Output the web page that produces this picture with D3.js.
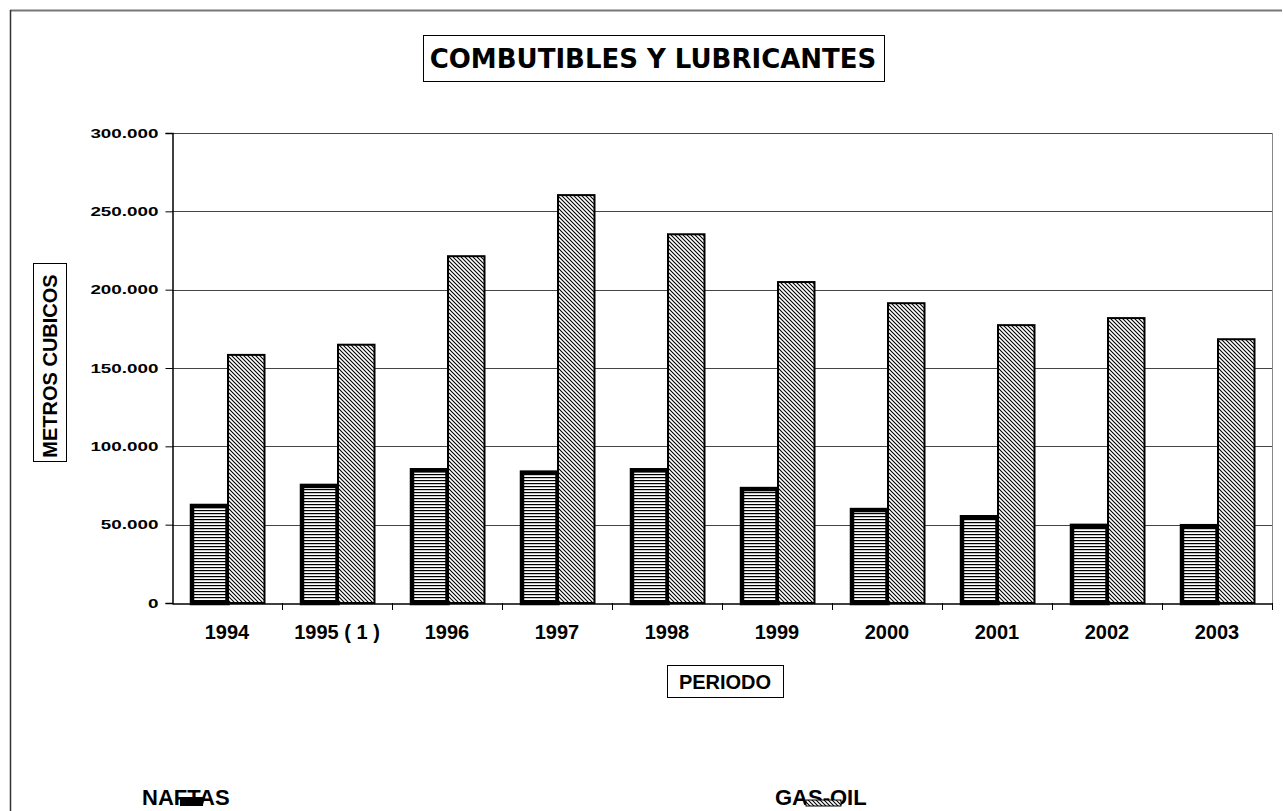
<!DOCTYPE html>
<html lang="es">
<head>
<meta charset="utf-8" />
<title>Combustibles y Lubricantes</title>
<script src="https://d3js.org/d3.v7.min.js"></script>
<style>
  body { margin: 0; background: #fff; }
  text { font-family: "Liberation Sans", Arial, sans-serif; font-weight: bold; fill: #000; }
</style>
</head>
<body>
<script>
// data
const periods = ["1994", "1995 ( 1 )", "1996", "1997", "1998", "1999", "2000", "2001", "2002", "2003"];
const naftas  = [63200, 76000, 86000, 84500, 86000, 74000, 60600, 56000, 50500, 50300];
const gasoil  = [159000, 165500, 222000, 261000, 236000, 205500, 192000, 178000, 182500, 169000];
const seriesNames = ["NAFTAS", "GAS-OIL"];
const yTicks = [0, 50000, 100000, 150000, 200000, 250000, 300000];

const width = 1283, height = 811;
const plot = { left: 172, right: 1272, top: 133, bottom: 603 };

const svg = d3.select("body").append("svg")
  .attr("width", width)
  .attr("height", height);

// patterns
const defs = svg.append("defs");
const hp = defs.append("pattern")
  .attr("id", "hstripe")
  .attr("patternUnits", "userSpaceOnUse")
  .attr("width", 6).attr("height", 3);
hp.append("rect").attr("width", 6).attr("height", 3).attr("fill", "#fff");
hp.append("rect").attr("y", 0).attr("width", 6).attr("height", 1.2).attr("fill", "#000");

const dp = defs.append("pattern")
  .attr("id", "diag")
  .attr("patternUnits", "userSpaceOnUse")
  .attr("width", 4).attr("height", 4);
dp.append("rect").attr("width", 4).attr("height", 4).attr("fill", "#fff");
dp.append("path").attr("d", "M-1,-1 L5,5 M-1,3 L1,5 M3,-1 L5,1")
  .attr("stroke", "#000").attr("stroke-width", 1.1);

// outer frame (top and left only visible)
svg.append("line").attr("x1", 10).attr("x2", 1282).attr("y1", 10.5).attr("y2", 10.5)
  .attr("stroke", "#777").attr("stroke-width", 2);
svg.append("line").attr("x1", 10.5).attr("x2", 10.5).attr("y1", 10).attr("y2", 811)
  .attr("stroke", "#333").attr("stroke-width", 1.5);

// scales
const x0 = d3.scaleBand().domain(periods).range([plot.left, plot.right]).paddingInner(0).paddingOuter(0);
const x1 = d3.scaleBand().domain(seriesNames).range([18, 110 - 17]).padding(0);
const y = d3.scaleLinear().domain([0, 300000]).range([plot.bottom, plot.top]);

// gridlines
svg.append("g").selectAll("line")
  .data(yTicks.slice(1))
  .join("line")
  .attr("x1", plot.left).attr("x2", plot.right)
  .attr("y1", d => Math.round(y(d)) + 0.5).attr("y2", d => Math.round(y(d)) + 0.5)
  .attr("stroke", "#444").attr("stroke-width", 1);

// right plot border
svg.append("line").attr("x1", plot.right + 0.5).attr("x2", plot.right + 0.5)
  .attr("y1", plot.top).attr("y2", plot.bottom)
  .attr("stroke", "#888").attr("stroke-width", 1);

// y axis (labels are horizontally stretched in the original)
const stretch = 1.45;
const fmt = d => d === 0 ? "0" : d3.format(",")(d).replace(/,/g, ".");
const yAxis = svg.append("g")
  .attr("transform", `translate(${plot.left + 0.5},0)`)
  .call(d3.axisLeft(y).tickValues(yTicks).tickFormat(fmt).tickSize(7));
yAxis.select(".domain").attr("stroke", "#000").attr("stroke-width", 1.5);
yAxis.selectAll(".tick line").attr("stroke", "#000");
yAxis.selectAll("text")
  .attr("x", -14 / stretch)
  .attr("transform", `scale(${stretch},1)`)
  .style("font-size", "13px").style("font-family", "Liberation Sans, Arial, sans-serif").style("font-weight", "bold");

// x axis
const xAxis = svg.append("g")
  .attr("transform", `translate(0,${plot.bottom + 0.5})`)
  .call(d3.axisBottom(x0).tickSize(0).tickPadding(21));
xAxis.select(".domain").attr("stroke", "#000").attr("stroke-width", 1.5);
xAxis.selectAll("text").style("font-size", "20px").style("font-family", "Liberation Sans, Arial, sans-serif").style("font-weight", "bold");
// tick marks at category boundaries
svg.append("g").selectAll("line")
  .data(periods.slice(1).concat(["end"]))
  .join("line")
  .attr("x1", (d, i) => Math.round(plot.left + x0.bandwidth() * (i + 1)) + 0.5)
  .attr("x2", (d, i) => Math.round(plot.left + x0.bandwidth() * (i + 1)) + 0.5)
  .attr("y1", plot.bottom).attr("y2", plot.bottom + 7)
  .attr("stroke", "#000");

// bars
const groups = svg.append("g").selectAll("g")
  .data(periods.map((p, i) => ({ p, vals: [naftas[i], gasoil[i]] })))
  .join("g")
  .attr("transform", d => `translate(${x0(d.p)},0)`);

groups.append("rect")
  .attr("x", x1("NAFTAS") + 2)
  .attr("y", d => y(d.vals[0]) + 2)
  .attr("width", x1.bandwidth() - 2)
  .attr("height", d => y(0) - y(d.vals[0]) - 2)
  .attr("fill", "url(#hstripe)")
  .attr("stroke", "#000").attr("stroke-width", 4.5);

groups.append("rect")
  .attr("x", x1("GAS-OIL") + 0.5)
  .attr("y", d => y(d.vals[1]) + 1)
  .attr("width", x1.bandwidth() - 1)
  .attr("height", d => y(0) - y(d.vals[1]) - 1)
  .attr("fill", "url(#diag)")
  .attr("stroke", "#000").attr("stroke-width", 2);

// title box
svg.append("rect").attr("x", 423.5).attr("y", 35.5).attr("width", 461).attr("height", 46)
  .attr("fill", "#fff").attr("stroke", "#000").attr("stroke-width", 1);
svg.append("text").attr("x", 653).attr("y", 68).attr("text-anchor", "middle")
  .style("font-size", "26px").style("font-family", "DejaVu Sans, sans-serif")
  .text("COMBUTIBLES Y LUBRICANTES");

// y axis title box
svg.append("rect").attr("x", 33.5).attr("y", 263.5).attr("width", 33).attr("height", 198)
  .attr("fill", "#fff").attr("stroke", "#000").attr("stroke-width", 1);
svg.append("text")
  .attr("transform", "translate(57,366) rotate(-90)")
  .attr("text-anchor", "middle")
  .style("font-size", "20px")
  .text("METROS CUBICOS");

// x axis title box
svg.append("rect").attr("x", 667.5).attr("y", 665.5).attr("width", 116).attr("height", 32)
  .attr("fill", "#fff").attr("stroke", "#000").attr("stroke-width", 1);
svg.append("text").attr("x", 725).attr("y", 689).attr("text-anchor", "middle")
  .style("font-size", "20px")
  .text("PERIODO");

// legend
const legend = svg.append("g");
legend.append("text").attr("x", 142).attr("y", 805).style("font-size", "22px").text(seriesNames[0]);
legend.append("rect").attr("x", 182).attr("y", 799).attr("width", 19).attr("height", 5)
  .attr("fill", "url(#hstripe)").attr("stroke", "#000").attr("stroke-width", 4);
legend.append("text").attr("x", 775).attr("y", 805).style("font-size", "22px").text(seriesNames[1]);
legend.append("rect").attr("x", 806).attr("y", 800).attr("width", 35).attr("height", 6)
  .attr("fill", "url(#diag)").attr("stroke", "#000").attr("stroke-width", 1);
</script>
</body>
</html>
